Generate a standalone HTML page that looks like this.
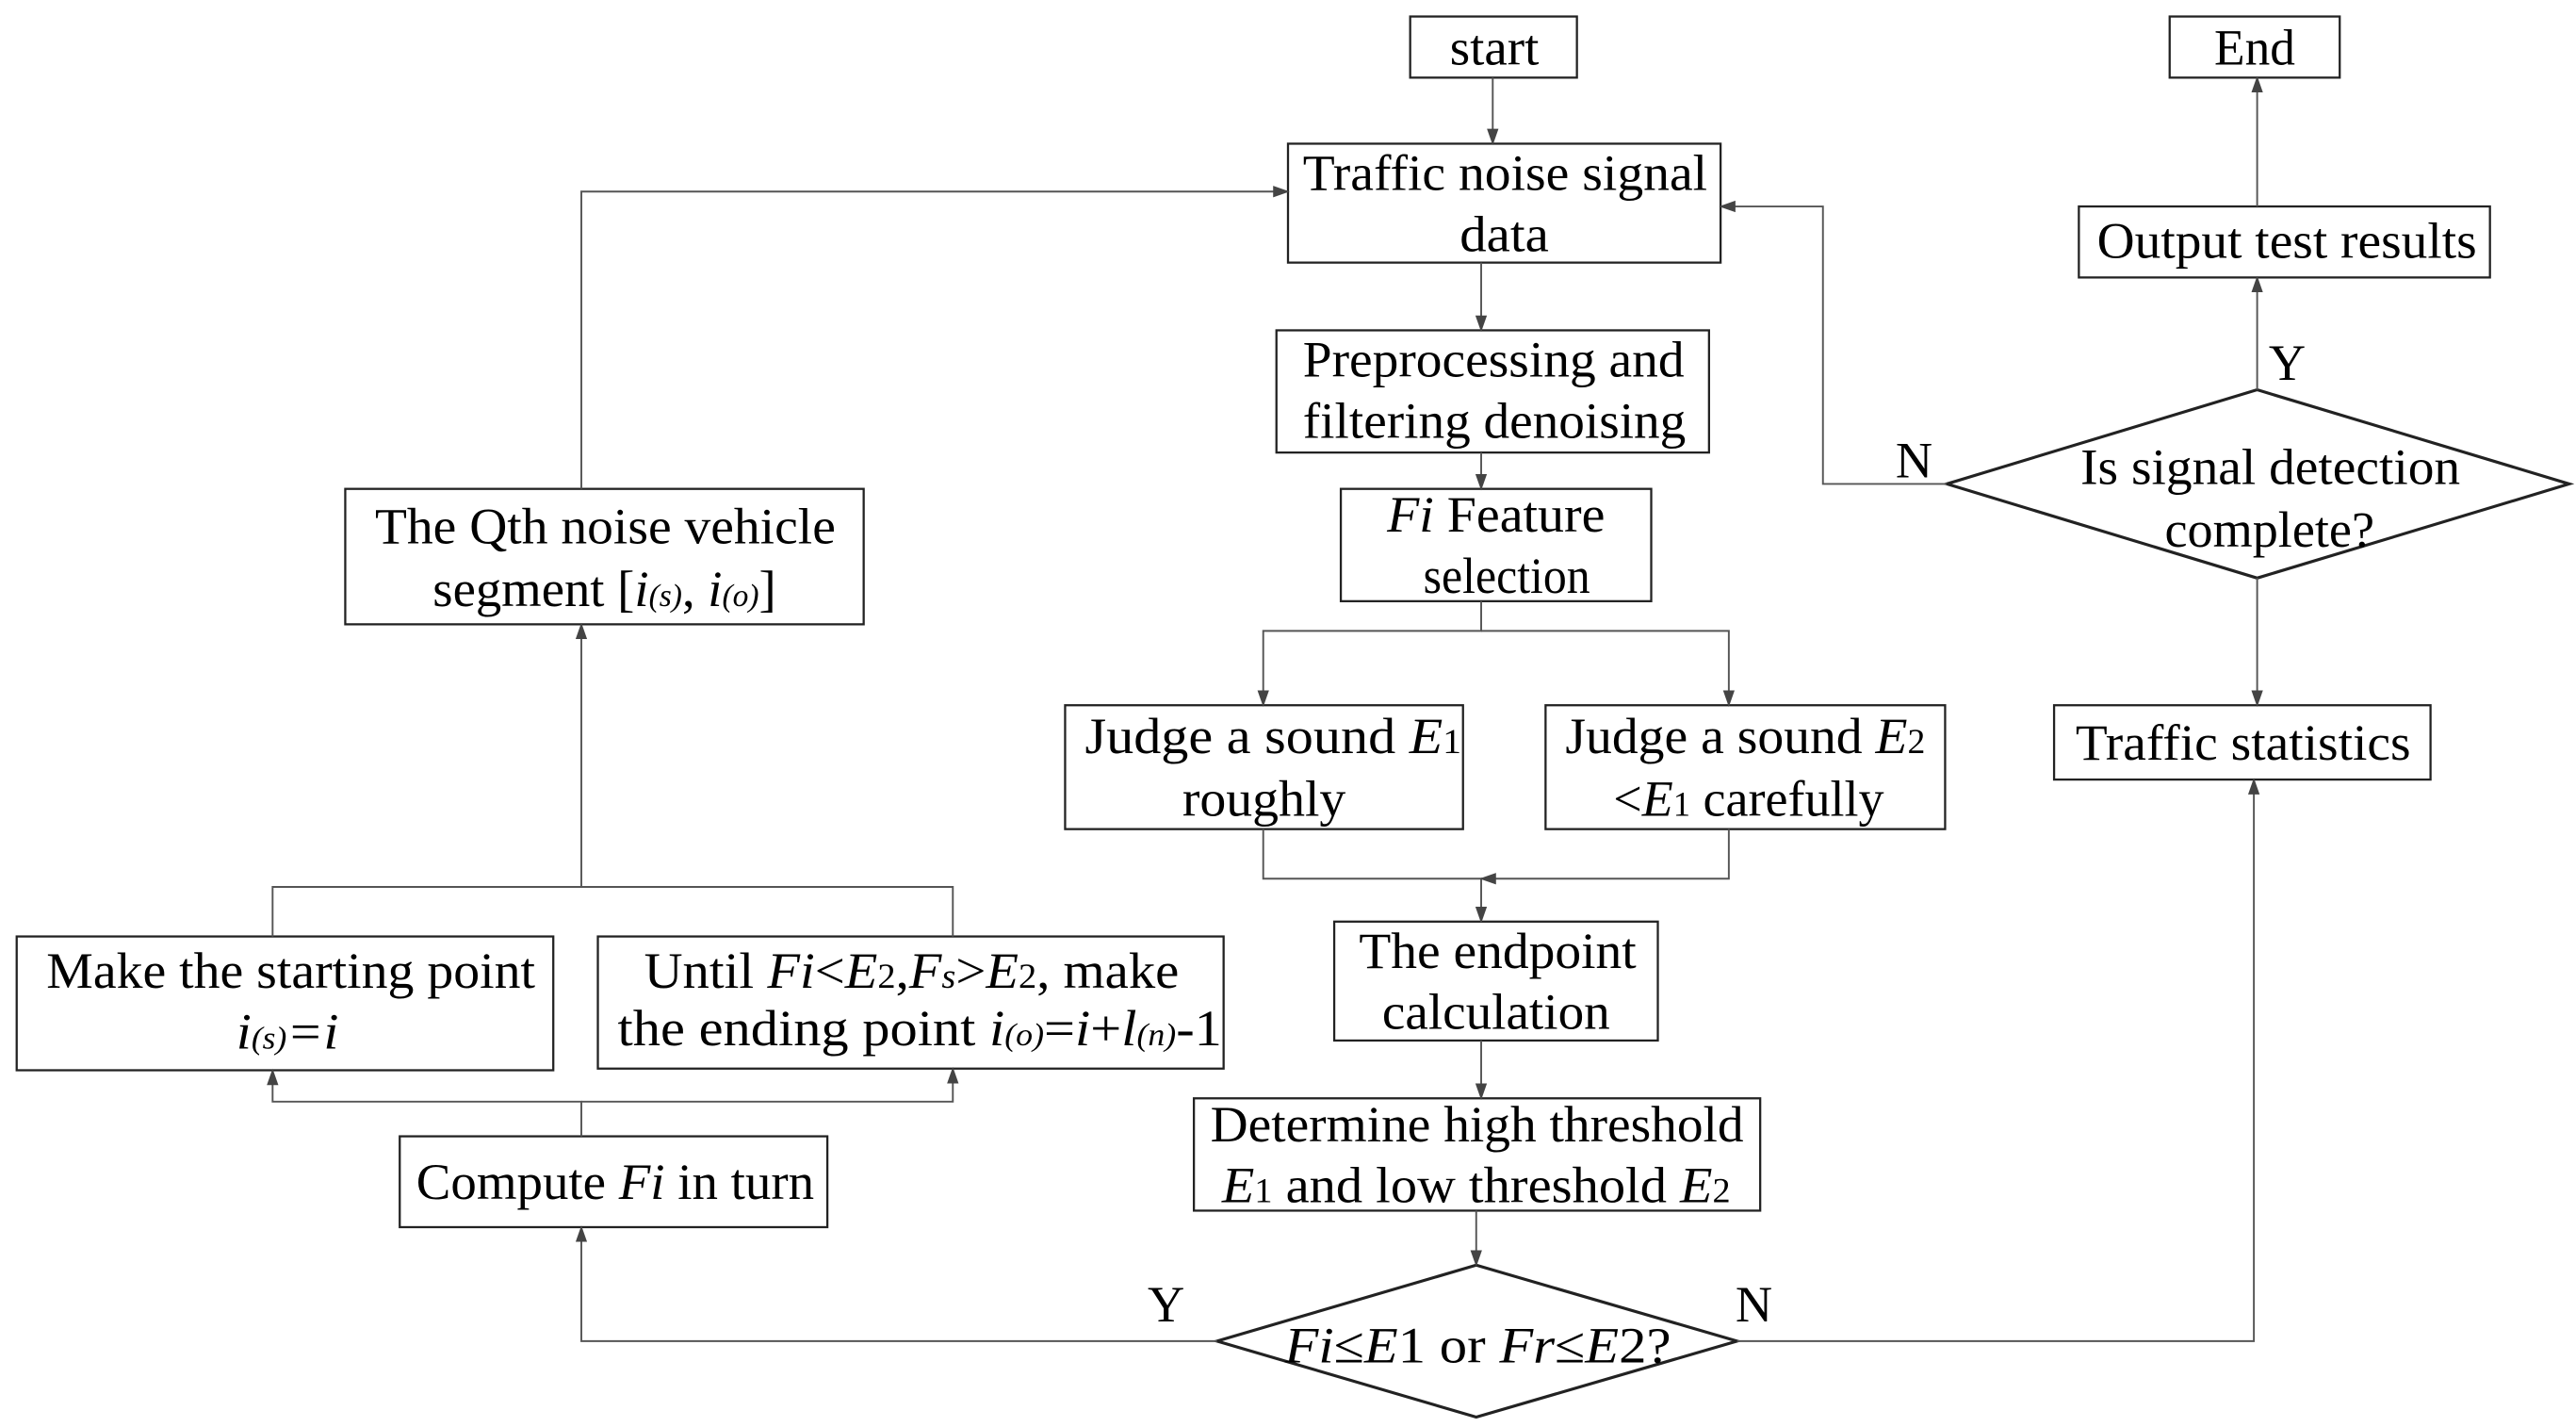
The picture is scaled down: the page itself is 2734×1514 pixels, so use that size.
<!DOCTYPE html>
<html><head><meta charset="utf-8"><style>html,body{margin:0;padding:0;background:#fff}svg{display:block}svg text{font-family:"Liberation Serif","Times New Roman",serif}</style></head>
<body>
<svg xmlns="http://www.w3.org/2000/svg" width="2734" height="1514" viewBox="0 0 1560 864">
<defs>
<marker id="a" markerWidth="10" markerHeight="10" refX="9" refY="5" orient="auto" markerUnits="userSpaceOnUse"><path d="M0,1.5 L10,5 L0,8.5 z" fill="#444"/></marker>
</defs>
<g fill="#fff" stroke="#222" stroke-width="1.3">
<rect x="854" y="10" width="101" height="37"/>
<rect x="1314" y="10" width="103" height="37"/>
<rect x="780" y="87" width="262" height="72"/>
<rect x="773" y="200" width="262" height="74"/>
<rect x="812" y="296" width="188" height="68"/>
<rect x="645" y="427" width="241" height="75"/>
<rect x="936" y="427" width="242" height="75"/>
<rect x="808" y="558" width="196" height="72"/>
<rect x="723" y="665" width="343" height="68"/>
<rect x="242" y="688" width="259" height="55"/>
<rect x="10" y="567" width="325" height="81"/>
<rect x="362" y="567" width="379" height="80"/>
<rect x="209" y="296" width="314" height="82"/>
<rect x="1259" y="125" width="249" height="43"/>
<rect x="1244" y="427" width="228" height="45"/>
<polygon points="737,812 894,766 1052,812 894,858" stroke-width="1.8"/>
<polygon points="1179,293 1367,236 1556,293 1367,350" stroke-width="1.8"/>
</g>
<g fill="none" stroke="#555" stroke-width="1.1" marker-end="url(#a)">
<path d="M904,47 V87"/>
<path d="M897,159 V200"/>
<path d="M897,274 V296"/>
<path d="M897,364 V382 H765 V427"/>
<path d="M897,382 H1047 V427"/>
<path d="M765,502 V532 H897 V558"/>
<path d="M1047,502 V532 H897"/>
<path d="M897,630 V665"/>
<path d="M894,733 V766"/>
<path d="M737,812 H352 V743"/>
<path d="M1052,812 H1365 V472"/>
<path d="M352,688 V667 H165 V648"/>
<path d="M352,667 H577 V647"/>
<path d="M165,567 V537 H577 V567" marker-end="none"/>
<path d="M352,537 V378"/>
<path d="M352,296 V116 H780"/>
<path d="M1179,293 H1104 V125 H1042"/>
<path d="M1367,236 V168"/>
<path d="M1367,125 V47"/>
<path d="M1367,350 V427"/>
</g>
<g font-size="31" fill="#000">
<text x="878" y="39" textLength="54" lengthAdjust="spacingAndGlyphs">start</text>
<text x="1341" y="39" textLength="49" lengthAdjust="spacingAndGlyphs">End</text>
<text x="789" y="115" textLength="245" lengthAdjust="spacingAndGlyphs">Traffic noise signal</text>
<text x="884" y="152" textLength="54" lengthAdjust="spacingAndGlyphs">data</text>
<text x="789" y="228" textLength="231" lengthAdjust="spacingAndGlyphs">Preprocessing and</text>
<text x="789" y="265" textLength="232" lengthAdjust="spacingAndGlyphs">filtering denoising</text>
<text x="840" y="322" textLength="132" lengthAdjust="spacingAndGlyphs"><tspan font-style="italic">Fi</tspan> Feature</text>
<text x="862" y="359" textLength="101" lengthAdjust="spacingAndGlyphs">selection</text>
<text x="657" y="456" textLength="228" lengthAdjust="spacingAndGlyphs">Judge a sound <tspan font-style="italic">E</tspan><tspan font-size="21">1</tspan></text>
<text x="716" y="494" textLength="99" lengthAdjust="spacingAndGlyphs">roughly</text>
<text x="948" y="456" textLength="218" lengthAdjust="spacingAndGlyphs">Judge a sound <tspan font-style="italic">E</tspan><tspan font-size="21">2</tspan></text>
<text x="977" y="494" textLength="164" lengthAdjust="spacingAndGlyphs">&lt;<tspan font-style="italic">E</tspan><tspan font-size="21">1</tspan> carefully</text>
<text x="823" y="586" textLength="168" lengthAdjust="spacingAndGlyphs">The endpoint</text>
<text x="837" y="623" textLength="138" lengthAdjust="spacingAndGlyphs">calculation</text>
<text x="733" y="691" textLength="323" lengthAdjust="spacingAndGlyphs">Determine high threshold</text>
<text x="740" y="728" textLength="308" lengthAdjust="spacingAndGlyphs"><tspan font-style="italic">E</tspan><tspan font-size="21">1</tspan> and low threshold  <tspan font-style="italic">E</tspan><tspan font-size="21">2</tspan></text>
<text x="778" y="825" textLength="234" lengthAdjust="spacingAndGlyphs"><tspan font-style="italic">Fi</tspan>≤<tspan font-style="italic">E</tspan>1 or <tspan font-style="italic">Fr</tspan>≤<tspan font-style="italic">E</tspan>2?</text>
<text x="252" y="726" textLength="241" lengthAdjust="spacingAndGlyphs">Compute <tspan font-style="italic">Fi</tspan> in turn</text>
<text x="28" y="598" textLength="296" lengthAdjust="spacingAndGlyphs">Make the starting point</text>
<text x="143" y="635" textLength="62" lengthAdjust="spacingAndGlyphs" font-style="italic">i<tspan font-size="19">(s)</tspan>=i</text>
<text x="390" y="598" textLength="324" lengthAdjust="spacingAndGlyphs">Until <tspan font-style="italic">Fi</tspan>&lt;<tspan font-style="italic">E</tspan><tspan font-size="21">2</tspan>,<tspan font-style="italic">F<tspan font-size="21">s</tspan></tspan>&gt;<tspan font-style="italic">E</tspan><tspan font-size="21">2</tspan>, make</text>
<text x="374" y="633" textLength="366" lengthAdjust="spacingAndGlyphs">the ending point <tspan font-style="italic">i<tspan font-size="19">(o)</tspan></tspan>=<tspan font-style="italic">i</tspan>+<tspan font-style="italic">l<tspan font-size="19">(n)</tspan></tspan>-1</text>
<text x="227" y="329" textLength="279" lengthAdjust="spacingAndGlyphs">The Qth noise vehicle</text>
<text x="262" y="367" textLength="208" lengthAdjust="spacingAndGlyphs">segment [<tspan font-style="italic">i<tspan font-size="19">(s)</tspan></tspan>, <tspan font-style="italic">i<tspan font-size="19">(o)</tspan></tspan>]</text>
<text x="1270" y="156" textLength="230" lengthAdjust="spacingAndGlyphs">Output test results</text>
<text x="1260" y="293" textLength="230" lengthAdjust="spacingAndGlyphs">Is signal detection</text>
<text x="1311" y="331" textLength="127" lengthAdjust="spacingAndGlyphs">complete?</text>
<text x="1257" y="460" textLength="203" lengthAdjust="spacingAndGlyphs">Traffic statistics</text>
<text x="1374" y="230">Y</text>
<text x="1148" y="289">N</text>
<text x="695" y="800">Y</text>
<text x="1051" y="800">N</text>
</g>
</svg>
</body></html>
